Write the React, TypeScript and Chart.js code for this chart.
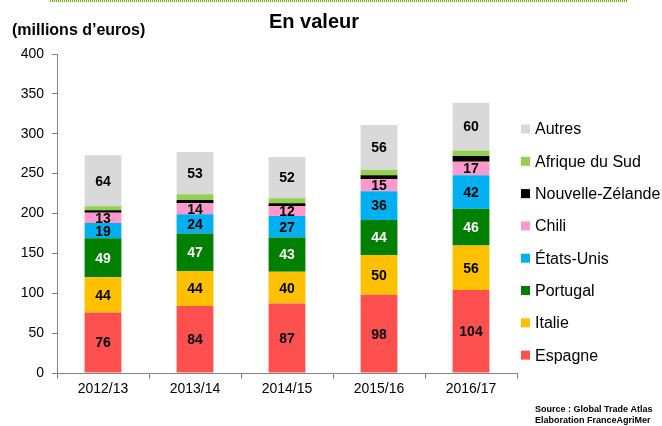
import React, { useEffect, useRef } from "react";
import { Chart, registerables } from "chart.js";

Chart.register(...registerables);

const categories = ["2012/13", "2013/14", "2014/15", "2015/16", "2016/17"];
const espagne = [76, 84, 87, 98, 104];
const italie = [44, 44, 40, 50, 56];
const portugal = [49, 47, 43, 44, 46];
const etatsUnis = [19, 24, 27, 36, 42];
const chili = [13, 14, 12, 15, 17];
const nouvelleZelande = [3, 4, 4, 5, 7];
const afriqueDuSud = [5, 7, 6, 7, 7];
const autres = [64, 53, 52, 56, 60];
const yTicks = [0, 50, 100, 150, 200, 250, 300, 350, 400];

const FONT = "'Liberation Sans', Arial, sans-serif";

export default function App() {
  const ref = useRef<HTMLCanvasElement | null>(null);

  useEffect(() => {
    document.body.style.margin = "0";
    const canvas = ref.current!;
    const series = [
      { label: "Espagne", data: espagne, color: "#FF5050", labeled: true, txt: "#000" },
      { label: "Italie", data: italie, color: "#FFC000", labeled: true, txt: "#000" },
      { label: "Portugal", data: portugal, color: "#008000", labeled: true, txt: "#fff" },
      { label: "États-Unis", data: etatsUnis, color: "#00B0F0", labeled: true, txt: "#000" },
      { label: "Chili", data: chili, color: "#FF99CC", labeled: true, txt: "#000" },
      { label: "Nouvelle-Zélande", data: nouvelleZelande, color: "#000000", labeled: false, txt: "#000" },
      { label: "Afrique du Sud", data: afriqueDuSud, color: "#92D050", labeled: false, txt: "#000" },
      { label: "Autres", data: autres, color: "#D9D9D9", labeled: true, txt: "#000" },
    ];

    const deco = {
      id: "deco",
      afterDatasetsDraw(chart: any) {
        const ctx = chart.ctx;
        const area = chart.chartArea;
        ctx.save();
        // data labels
        ctx.font = `bold 14px ${FONT}`;
        ctx.textAlign = "center";
        ctx.textBaseline = "middle";
        series.forEach((s, i) => {
          if (!s.labeled) return;
          const meta = chart.getDatasetMeta(i);
          meta.data.forEach((el: any, j: number) => {
            ctx.fillStyle = s.txt;
            ctx.fillText(String(s.data[j]), el.x, (el.y + el.base) / 2 + 1);
          });
        });
        // legend
        const lx = area.right + 4;
        let ly = 129;
        ctx.textAlign = "left";
        ctx.font = `16px ${FONT}`;
        for (let i = series.length - 1; i >= 0; i--) {
          const s = series[i];
          ctx.fillStyle = s.color;
          ctx.fillRect(lx, ly - 4.5, 9, 9);
          ctx.fillStyle = "#000";
          ctx.fillText(s.label, lx + 14, ly + 1);
          ly += 32.3;
        }
        // titles
        ctx.font = `bold 20px ${FONT}`;
        ctx.textAlign = "center";
        ctx.fillText("En valeur", 314, 22);
        ctx.font = `bold 16px ${FONT}`;
        ctx.textAlign = "left";
        ctx.fillText("(millions d\u2019euros)", 12, 31);
        // source
        ctx.font = `bold 9px ${FONT}`;
        ctx.fillText("Source : Global Trade Atlas", 535, 410);
        ctx.fillText("Elaboration FranceAgriMer", 535, 421);
        // dotted top line
        ctx.strokeStyle = "#6CC000";
        ctx.lineWidth = 2;
        ctx.setLineDash([1, 1]);
        ctx.beginPath();
        ctx.moveTo(50, 1);
        ctx.lineTo(628, 1);
        ctx.stroke();
        ctx.restore();
      },
    };

    const chart = new Chart(canvas, {
      type: "bar",
      data: {
        labels: categories,
        datasets: series.map((s) => ({
          label: s.label,
          data: s.data,
          backgroundColor: s.color,
          borderWidth: 0,
          categoryPercentage: 1,
          barPercentage: 0.4,
        })),
      },
      options: {
        animation: false,
        responsive: false,
        layout: { padding: { top: 54, right: 145, bottom: 23, left: 0 } },
        plugins: { legend: { display: false }, tooltip: { enabled: false }, title: { display: false } },
        scales: {
          x: {
            stacked: true,
            border: { display: true, color: "#868686", width: 1 },
            grid: { display: true, drawOnChartArea: false, drawTicks: true, tickLength: 6, color: "#868686", offset: true },
            ticks: { font: { family: FONT, size: 14 }, color: "#000", padding: 2 },
            afterFit: (s: any) => { s.height = 30; },
          },
          y: {
            stacked: true,
            min: 0,
            max: 400,
            afterBuildTicks: (s: any) => { s.ticks = yTicks.map((v) => ({ value: v })); },
            border: { display: true, color: "#868686", width: 1 },
            grid: { display: true, drawOnChartArea: false, drawTicks: true, tickLength: 5, color: "#868686" },
            ticks: { font: { family: FONT, size: 14 }, color: "#000", padding: 8 },
            afterFit: (s: any) => { s.width = 57; },
          },
        },
      },
      plugins: [deco],
    });
    return () => chart.destroy();
  }, []);

  return <canvas ref={ref} width={662} height={426} style={{ display: "block" }} />;
}
